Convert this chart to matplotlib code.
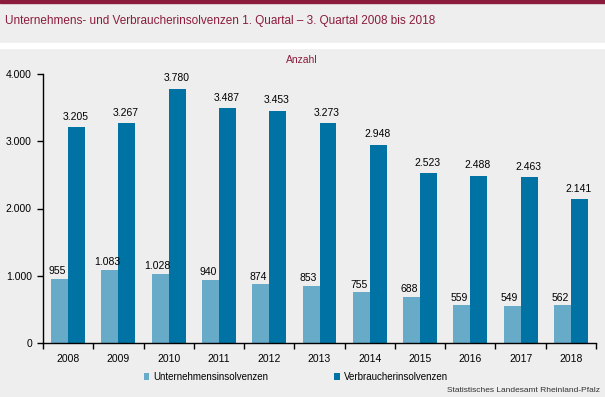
import numpy as np
import matplotlib.pyplot as plt

plt.rcParams['font.family'] = ['Liberation Sans', 'DejaVu Sans']

# data
years = ['2008', '2009', '2010', '2011', '2012', '2013', '2014', '2015', '2016', '2017', '2018']
unternehmen = [955, 1083, 1028, 940, 874, 853, 755, 688, 559, 549, 562]
verbraucher = [3205, 3267, 3780, 3487, 3453, 3273, 2948, 2523, 2488, 2463, 2141]
yticks = [0, 1000, 2000, 3000, 4000]

bg = '#eeeeee'
red = '#8b1c3c'
c_light = '#67abc8'
c_dark = '#0072a3'


def fmt(v):
    # German thousands separator
    return f'{v:,}'.replace(',', '.')


fig = plt.figure(figsize=(6.05, 3.97), dpi=100, facecolor=bg)

# top border and white separator strip
fig.patches.append(plt.Rectangle((0, 1 - 3 / 397), 1, 3 / 397, transform=fig.transFigure,
                                 color=red, zorder=0))
fig.patches.append(plt.Rectangle((0, 1 - 48 / 397), 1, 5 / 397, transform=fig.transFigure,
                                 color='white', zorder=0))

fig.text(5 / 605, 1 - 21 / 397, 'Unternehmens- und Verbraucherinsolvenzen 1. Quartal \u2013 3. Quartal 2008 bis 2018',
         color=red, fontsize=8.5, va='center', ha='left')

ax = fig.add_axes([43 / 605, 1 - 343 / 397, 553 / 605, 269 / 397])
ax.set_facecolor(bg)

x = np.arange(len(years))
w = 0.338
b1 = ax.bar(x - w / 2, unternehmen, w, color=c_light, label='Unternehmensinsolvenzen')
b2 = ax.bar(x + w / 2, verbraucher, w, color=c_dark, label='Verbraucherinsolvenzen')

for xi, v in zip(x, unternehmen):
    ax.text(xi - w / 2 - 0.05, v + 40, fmt(v), ha='center', va='bottom', fontsize=7.5)
for xi, v in zip(x, verbraucher):
    ax.text(xi + w / 2 - 0.02, v + 80, fmt(v), ha='center', va='bottom', fontsize=7.5)

ax.set_xlim(-0.5, len(years) - 0.5)
ax.set_ylim(0, 4000)
ax.set_yticks(yticks)
ax.set_yticklabels([fmt(v) for v in yticks], fontsize=7.5)
ax.set_xticks(x)
ax.set_xticklabels(years, fontsize=7.5)
ax.set_xticks(np.arange(len(years) + 1) - 0.5, minor=True)
ax.tick_params(axis='x', which='major', length=0, pad=8)
ax.tick_params(axis='x', which='minor', length=4, width=1, direction='out')
ax.tick_params(axis='y', length=4, width=1, direction='out', pad=4)

ax.spines['top'].set_visible(False)
ax.spines['right'].set_visible(False)
ax.spines['left'].set_linewidth(1)
ax.spines['bottom'].set_linewidth(1)

fig.text(302 / 605, 1 - 60 / 397, 'Anzahl', color=red, fontsize=7.5, ha='center', va='center')

fig.legend(handles=[b1, b2], loc='center', bbox_to_anchor=(296 / 605, 1 - 377 / 397), ncol=2,
           frameon=False, fontsize=7, handlelength=0.6, handleheight=0.6, handletextpad=0.4,
           columnspacing=6.8)

fig.text(600 / 605, 1 - 391 / 397, 'Statistisches Landesamt Rheinland-Pfalz', fontsize=6,
         ha='right', va='center', color='#333333')

fig.savefig('out.png', dpi=100, facecolor=bg)
